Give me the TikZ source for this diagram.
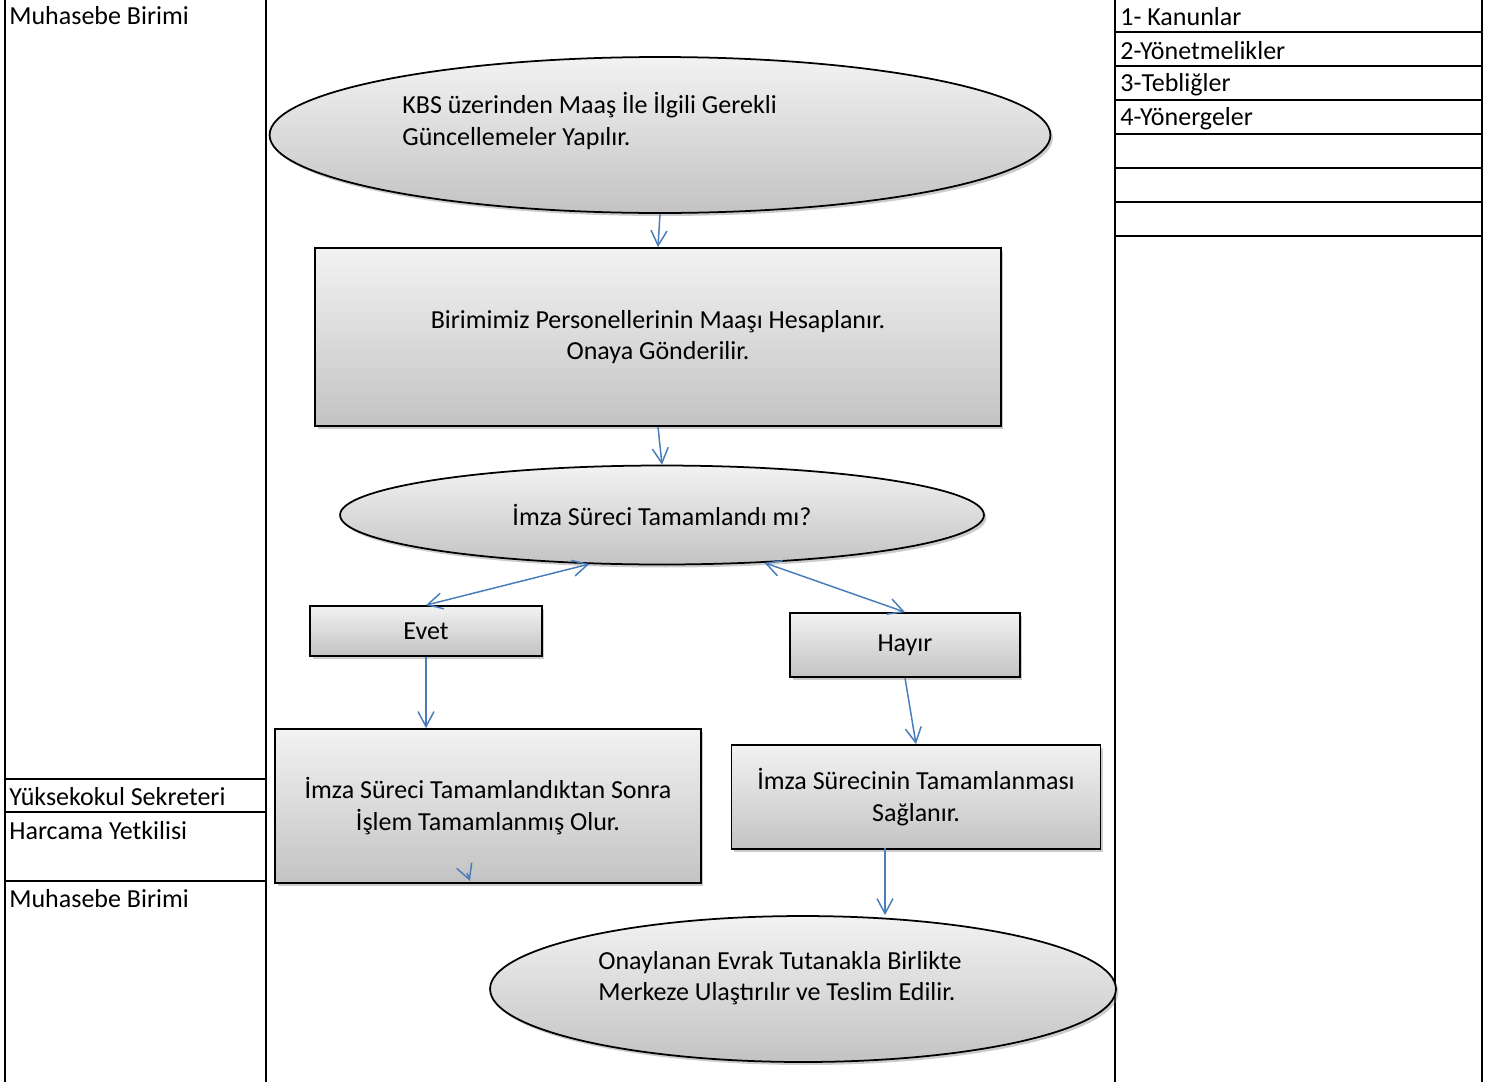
\documentclass[tikz,border=0pt]{standalone}
\usepackage{fontspec}
\setmainfont{Carlito}
\usetikzlibrary{shapes.geometric,arrows.meta,shadows}
\definecolor{flowblue}{HTML}{4A7EBB}

\begin{document}
\begin{tikzpicture}[x=0.02cm,y=-0.02cm,
		every node/.style={font=\fontsize{14.8}{18}\selectfont},
		box/.style={draw=black,line width=1pt,top color=gray!10,bottom color=gray!47,inner sep=0pt,
			drop shadow={shadow xshift=0.05cm,shadow yshift=-0.06cm,opacity=0.4}},
		oval/.style={box,ellipse},
		flow/.style={draw=flowblue,line width=0.85pt,-{Straight Barb[length=0.3cm,width=0.32cm]}},
		both/.style={flow,{Straight Barb[length=0.3cm,width=0.32cm]}-{Straight Barb[length=0.3cm,width=0.32cm]}},
		rule/.style={line width=1.1pt}]
					\useasboundingbox (0,0) rectangle (1496,1082);

					\draw[rule] (5,0) -- (5,1082);
					\draw[rule] (266,0) -- (266,1082);
					\draw[rule] (1115,0) -- (1115,1082);
					\draw[rule] (1482,0) -- (1482,1082);
					\foreach \y in {779,812,881}
					{
						\draw[rule] (5,\y) -- (266,\y);
					}
					\foreach \y in {32,66,100,134,168,202,236}
					{
						\draw[rule] (1115,\y) -- (1482,\y);
					}

					\node[anchor=west,inner sep=0pt] (birim1) at (9,16) {Muhasebe Birimi};
					\node[anchor=west,inner sep=0pt] (sekreter) at (9,797) {Yüksekokul Sekreteri};
					\node[anchor=west,inner sep=0pt] (harcama) at (9,831) {Harcama Yetkilisi};
					\node[anchor=west,inner sep=0pt] (birim2) at (9,899) {Muhasebe Birimi};

					\foreach[count=\i] \t in {1- Kanunlar,2-Yönetmelikler,3-Tebliğler,4-Yönergeler}
					{
						\node[anchor=west,inner sep=0pt] (mevzuat\i) at (1120,{17+34*(\i-1)}) {\t};
					}

					\node[oval,minimum width=15.62cm,minimum height=3.12cm] (kbs) at (660,135) {};
					\node[anchor=west,align=left,inner sep=0pt] (kbstext) at (402,121) {KBS üzerinden Maaş İle İlgili Gerekli\\Güncellemeler Yapılır.};

					\node[box,minimum width=13.72cm,minimum height=3.56cm,align=center] (maas) at (658,337) {Birimimiz Personellerinin Maaşı Hesaplanır.\\Onaya Gönderilir.};

					\node[oval,minimum width=12.88cm,minimum height=1.98cm] (imza) at (662,515) {İmza Süreci Tamamlandı mı?};

					\node[box,minimum width=4.64cm,minimum height=1cm] (evet) at (426,631) {Evet};
					\node[box,minimum width=4.6cm,minimum height=1.28cm] (hayir) at (905,645) {Hayır};

					\node[box,minimum width=8.52cm,minimum height=3.08cm,align=center] (sonra) at (488,806) {İmza Süreci Tamamlandıktan Sonra\\İşlem Tamamlanmış Olur.};
					\node[box,minimum width=7.38cm,minimum height=2.08cm,align=center] (saglan) at (916,797) {İmza Sürecinin Tamamlanması\\Sağlanır.};

					\node[oval,minimum width=12.52cm,minimum height=2.92cm] (teslim) at (803,989) {};
					\node[anchor=west,align=left,inner sep=0pt] (teslimtext) at (598,978) {Onaylanan Evrak Tutanakla Birlikte\\Merkeze Ulaştırılır ve Teslim Edilir.};

					\draw[flow] (kbs.south) -- (maas.north);
					\draw[flow] (maas.south) -- (imza.north);
					\draw[both] (imza.214) -- (evet.north);
					\draw[both] (imza.335) -- (hayir.north);
					\draw[flow] (evet.south) -- (evet.south |- sonra.north);
					\draw[flow] (hayir.south) -- (saglan.north);
					\coordinate (saglanout) at (885,848);
					\draw[flow] (saglanout) -- (saglanout |- teslim.north);
					\coordinate (izA) at (467,873);
					\coordinate (izB) at (470,881);
					\draw[flow] (izA) -- (izB);
				\end{tikzpicture}
\end{document}
